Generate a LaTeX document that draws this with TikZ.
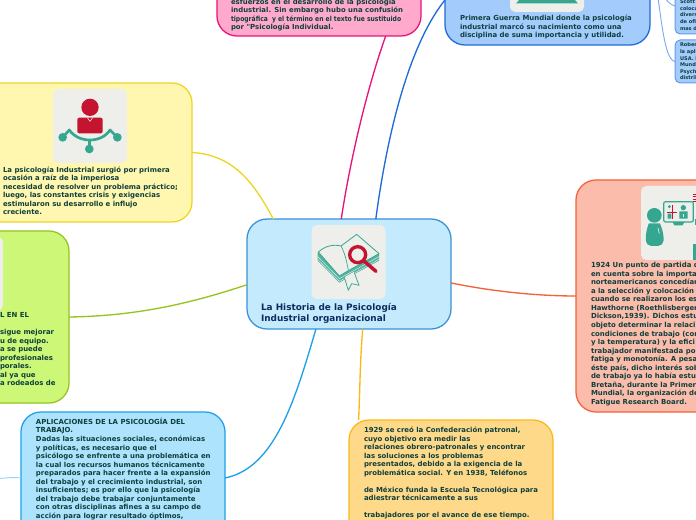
\documentclass[tikz,border=0pt]{standalone}
\usepackage{fontspec}
\newfontfamily\cardfont{DejaVu Sans Bold}
\definecolor{inkteal}{HTML}{0E3F3C}
\definecolor{inknavy}{HTML}{0F2A5C}
\definecolor{tilegrey}{HTML}{EEEFEB}
\definecolor{iconteal}{HTML}{35A690}
\definecolor{iconred}{HTML}{C5142F}
\definecolor{centralD}{HTML}{3B92D6}\definecolor{centralF}{HTML}{C3EAFD}
\definecolor{yellowD}{HTML}{EED523}\definecolor{yellowF}{HTML}{FFF7B0}
\definecolor{greenD}{HTML}{97C41F}\definecolor{greenF}{HTML}{CDF776}
\definecolor{pinkD}{HTML}{E8127A}\definecolor{pinkF}{HTML}{FFAACC}
\definecolor{blueD}{HTML}{1F6BD6}\definecolor{blueF}{HTML}{A3CBFB}
\definecolor{smallD}{HTML}{649BEB}\definecolor{smallL}{HTML}{7DAAEE}
\definecolor{salmonD}{HTML}{F4623A}\definecolor{salmonF}{HTML}{FBBCAB}
\definecolor{skyD}{HTML}{1FA0EA}\definecolor{skyF}{HTML}{AEE3FD}\definecolor{skyL}{HTML}{96D7F8}
\definecolor{amberD}{HTML}{FBB917}\definecolor{amberF}{HTML}{FFD98A}
\tikzset{
  x=.75pt,y=-.75pt,
  card/.style={rectangle,rounded corners=15pt,draw=#1D,fill=#1F,line width=.95pt,inner sep=0pt,outer sep=0pt},
  smallcard/.style={rectangle,rounded corners=4pt,draw=smallD,fill=blueF,line width=.75pt,inner sep=0pt,outer sep=0pt},
  tile/.style={rectangle,rounded corners=4pt,fill=tilegrey,inner sep=0pt,outer sep=0pt,minimum width=55.5pt,minimum height=55.5pt},
  bodytext/.style={anchor=north west,align=left,inner sep=0pt,outer sep=0pt,text=inkteal,font=\cardfont\fontsize{5.2}{6.4}\selectfont},
  smalltext/.style={bodytext,font=\cardfont\fontsize{3.8}{4.95}\selectfont},
  titletext/.style={anchor=north west,align=left,inner sep=0pt,outer sep=0pt,text=inknavy,font=\cardfont\fontsize{6.68}{8.3}\selectfont},
  link/.style={line width=1pt,draw=#1},
  thinlink/.style={line width=.7pt,draw=#1},
  teal line/.style={draw=iconteal,line width=.6pt,fill=tilegrey,line join=round}
}
\begin{document}
\begin{tikzpicture}
\clip (0,0) rectangle (696,520);
\useasboundingbox (0,0) rectangle (696,520);
\fill[white] (0,0) rectangle (696,520);

% cards
\node[card=central,minimum width=153pt,minimum height=82.5pt] (central) at (349,274) {};
\node[card=yellow,minimum width=162.75pt,minimum height=104.25pt] (yellow) at (83.5,152.5) {};
\node[card=green,minimum width=96.75pt,minimum height=129pt] (green) at (4.5,317) {};
\node[card=pink,minimum width=153pt,minimum height=87pt] (pink) at (319,-22) {};
\node[card=blue,minimum width=153.75pt,minimum height=108.75pt] (blue) at (547.5,-27.5) {};
\node[smallcard,minimum width=37.5pt,minimum height=42pt] (smallone) at (700,6) {};
\node[smallcard,minimum width=37.5pt,minimum height=32.25pt] (smalltwo) at (700,61.5) {};
\node[card=salmon,minimum width=108pt,minimum height=174pt] (salmon) at (648,296) {};
\node[card=sky,minimum width=153pt,minimum height=99pt] (sky) at (123,478) {};
\node[card=amber,minimum width=153pt,minimum height=90pt] (amber) at (451,480) {};

% connectors
\coordinate (skyend) at (-5,479);
\draw[link=yellowD] (yellow.east) .. controls (235,155) and (255,185) .. (central.144);
\draw[link=greenD] (green.east) .. controls (140,316) and (195,302) .. (central.186);
\draw[link=pinkD] (central.98) .. controls (350,160) and (368,85) .. (pink.-41.3);
\draw[link=blueD] (central.64.7) .. controls (385,150) and (405,50) .. (blue.195);
\draw[link=salmonD] (central.-5) .. controls (490,291) and (535,296) .. (salmon.west);
\draw[link=skyD] (central.239) .. controls (295,400) and (275,468) .. (sky.east);
\draw[link=amberD] (central.284) .. controls (360,360) and (360,390) .. (amber.147);
\draw[thinlink=skyL] (sky.west) .. controls (12,477) and (5,478) .. (skyend);
\draw[thinlink=smallL] (blue.east) .. controls (658,-27) and (660,2) .. (smallone.west);
\draw[thinlink=smallL] (blue.east) .. controls (660,-27) and (660,60) .. (smalltwo.west);

% tiles
\node[tile] (tilecentral) at (348.5,262) {};
\node[tile] (tileyellow) at (90,126) {};
\node[tile] (tilegreen) at (-34,273.5) {};
\node[tile] (tileblue) at (547,-25) {};
\node[tile] (tilesalmon) at (678,223) {};

% icon: book and magnifier
\begin{scope}[shift={(305,222)},x=.25pt,y=-.25pt]
  \fill[iconteal!85] (38,92) -- (38,116) -- (103,182) -- (130,166) -- (222,116) -- (222,95) -- cycle;
  \foreach \d in {0,8}{\draw[tilegrey,line width=.3pt] (38,104+\d) -- (103,170+\d) -- (222,104+\d);}
  \fill[tilegrey] (118,166) -- (130,205) -- (140,185) -- (162,190) -- (146,150) -- cycle;
  \draw[iconteal,line width=.55pt,line join=round] (118,166) -- (130,205) -- (140,185) -- (162,190) -- (148,152);
  \draw[teal line] (40,90) .. controls (60,72) and (85,66) .. (108,72) -- (155,37) -- (222,95) -- (130,146) -- (103,162) -- cycle;
  \draw[iconteal,line width=.5pt] (108,72) .. controls (118,90) and (125,115) .. (130,146);
  \draw[iconred,line width=2.6pt,line cap=round] (178,118) -- (213,148);
  \draw[iconred,line width=2.5pt] (158,98) circle (24);
\end{scope}

% icon: person and network
\begin{scope}[shift={(0,80)},x=.25pt,y=-.25pt]
  \fill[iconred] (270,82) circle (26);
  \fill[iconred,rounded corners=1.5pt] (232,113) -- (308,113) -- (308,160) -- (232,160) -- cycle;
  \draw[white,line width=.35pt] (262,113) -- (270,124) -- (278,113);
  \draw[iconteal,line width=2pt,line join=round] (188,172) -- (208,150) .. controls (235,190) and (305,190) .. (330,150) -- (352,172);
  \draw[iconteal,line width=2pt] (268,180) -- (268,207);
  \fill[iconteal] (188,172) circle (13) (352,172) circle (13) (268,207) circle (13);
\end{scope}

% icon: top blue tile
\fill[iconteal] (519,0) -- (575,0) -- (578,3.5) -- (516,3.5) -- cycle;

% icon: person and monitor
\begin{scope}[shift={(636,182)},x=.25pt,y=-.25pt]
  \fill[iconteal] (55,100) circle (22);
  \fill[iconteal,rounded corners=4pt] (30,192) .. controls (28,150) and (38,124) .. (55,124) .. controls (72,124) and (84,150) .. (82,192) -- cycle;
  \draw[tilegrey,line width=.5pt] (66,138) -- (70,155);
  \draw[iconteal,line width=.9pt,rounded corners=1.5pt,fill=tilegrey] (83,59) rectangle (172,120);
  \fill[iconteal] (110,120) -- (145,120) -- (140,130) -- (115,130) -- cycle;
  \fill[iconteal] (100,74) circle (5) (142,77) circle (8);
  \fill[iconteal] (95,95) rectangle (106,110) (130,88) rectangle (155,110);
  \fill[tilegrey] (140,95) rectangle (144,105);
  \draw[iconred,line width=.6pt] (108,70) -- (108,110) (92,90) -- (124,90);
  \draw[iconred,line width=.6pt] (170,37) -- (180,37) (170,44) -- (180,44) (170,51) -- (180,51) (172,58) -- (180,58);
  \fill[iconteal] (172,185) rectangle (182,235);
  \fill[iconteal] (176,112) rectangle (182,128);
\end{scope}

% texts
\node[titletext] (tcentral) at (261,303) {La Historia de la Psicología\\Industrial organizacional};
\node[bodytext] (tyellow) at (3,166.5) {La psicología Industrial surgió por primera\\ocasión a raíz de la imperiosa\\necesidad de resolver un problema práctico;\\luego, las constantes crisis y exigencias\\estimularon su desarrollo e influjo\\creciente.};
\node[bodytext] (tgreen) at (0,312.5) {L EN EL\\\mbox{}\\sigue mejorar\\u de equipo.\\a se puede\\profesionales\\porales.\\al ya que\\a rodeados de};
\node[bodytext] (tpink) at (231,-1.5) {esfuerzos en el desarrollo de la psicología\\industrial. Sin embargo hubo una confusión\\\scalebox{.87}[1]{tipográfica\ \ y el término en el texto fue sustituido}\\por "Psicología Individual.};
\node[bodytext] (tblue) at (460,15) {Primera Guerra Mundial donde la psicología\\industrial marcó su nacimiento como una\\disciplina de suma importancia y utilidad.};
\node[bodytext] (tsalmon) at (591,262.5) {1924 Un punto de partida d\\en cuenta sobre la importa\\norteamericanos concedían\\a la selección y colocación\\cuando se realizaron los es\\Hawthorne (Roethlisberger\\Dickson,1939). Dichos estu\\objeto determinar la relaci\\condiciones de trabajo (con\\y la temperatura) y la efici\\trabajador manifestada po\\fatiga y monotonía. A pesa\\éste país, dicho interés sob\\de trabajo ya lo había estu\\Bretaña, durante la Primer\\Mundial, la organización de\\Fatigue Research Board.};
\node[bodytext] (tsky) at (36,418) {APLICACIONES DE LA PSICOLOGÍA DEL\\TRABAJO.\\Dadas las situaciones sociales, económicas\\y políticas, es necesario que el\\psicólogo se enfrente a una problemática en\\la cual los recursos humanos técnicamente\\preparados para hacer frente a la expansión\\del trabajo y el crecimiento industrial, son\\insuficientes; es por ello que la psicología\\del trabajo debe trabajar conjuntamente\\con otras disciplinas afines a su campo de\\acción para lograr resultado óptimos,};
\node[bodytext] (tamber) at (364,427) {1929 se creó la Confederación patronal,\\cuyo objetivo era medir las\\relaciones obrero-patronales y encontrar\\las soluciones a los problemas\\presentados, debido a la exigencia de la\\problemática social. Y en 1938, Teléfonos\\\mbox{}\\de México funda la Escuela Tecnológica para\\adiestrar técnicamente a sus\\\mbox{}\\trabajadores por el avance de ese tiempo.};
\node[smalltext] (tsmallone) at (680,0) {Scott\\coloca\\divers\\de ofi\\mas d};
\node[smalltext] (tsmalltwo) at (680,43) {Rober\\la apli\\USA. I\\Mundi\\Psych\\distrib};
\end{tikzpicture}
\end{document}
